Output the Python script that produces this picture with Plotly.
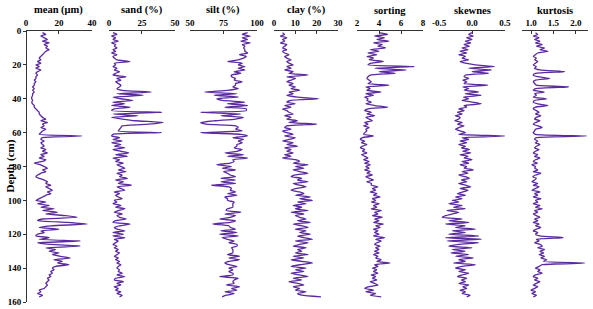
import plotly.graph_objects as go

depth = list(range(1, 158))

mean_um = [10, 12, 9, 11, 13, 10, 14, 11, 13, 12,
           14, 12, 11, 10, 9, 8, 9, 7, 9, 6,
           8, 6, 9, 7, 6, 7, 6, 6, 5, 6,
           5, 5, 4, 5, 4, 5, 4, 4, 3.5, 3.5,
           4, 3.5, 4, 5, 5, 6, 7, 8, 8, 9,
           10, 12, 9, 13, 10, 11, 9, 12, 10, 9,
           8, 34, 10, 9, 11, 9, 10, 11, 9, 12,
           10, 13, 9, 11, 8, 12, 10, 5, 9, 11,
           13, 10, 12, 9, 7, 6, 8, 11, 13, 12,
           15, 12, 14, 16, 13, 15, 12, 10, 8, 6,
           12, 7, 14, 9, 17, 10, 19, 12, 24, 31,
           10, 7, 25, 37, 15, 8, 20, 9, 11, 7,
           6, 14, 8, 33, 7, 15, 33, 12, 18, 14,
           20, 16, 21, 27, 17, 22, 19, 26, 18, 16,
           17, 15, 16, 14, 15, 13, 14, 13, 12, 13,
           12, 11, 8, 9, 7, 10, 8]

sand = [3, 6, 2, 5, 3, 7, 2, 5, 4, 6,
        3, 5, 2, 6, 3, 4, 6, 16, 4, 5,
        3, 6, 4, 8, 5, 3, 13, 6, 9, 5,
        7, 9, 8, 6, 10, 32, 6, 26, 3, 9,
        18, 3, 12, 2, 16, 4, 2, 40, 3, 22,
        2, 10, 20, 41, 30, 10, 9, 8, 7, 40,
        3, 2, 8, 3, 10, 2, 9, 4, 12, 3,
        9, 15, 5, 14, 3, 8, 5, 11, 6, 9,
        12, 7, 13, 6, 10, 8, 14, 5, 11, 7,
        17, 6, 9, 12, 4, 8, 5, 7, 10, 4,
        6, 3, 9, 5, 12, 7, 4, 10, 6, 8,
        13, 5, 3, 16, 8, 4, 6, 12, 3, 11,
        3, 12, 4, 7, 5, 3, 6, 4, 7, 5,
        8, 6, 4, 7, 5, 8, 6, 9, 7, 6,
        8, 7, 10, 6, 12, 5, 4, 11, 6, 9,
        4, 7, 5, 9, 6, 10, 8]

silt = [93, 89, 95, 89, 93, 88, 95, 89, 91, 90,
        91, 91, 93, 87, 92, 90, 86, 78, 89, 86,
        91, 86, 91, 83, 88, 81, 81, 84, 83, 89,
        84, 84, 82, 86, 78, 61, 85, 68, 86, 70,
        74, 91, 78, 93, 76, 92, 92, 58, 88, 73,
        90, 84, 69, 58, 62, 84, 86, 84, 89, 58,
        88, 93, 82, 90, 86, 89, 85, 85, 83, 89,
        85, 76, 90, 78, 93, 82, 83, 80, 70, 81,
        74, 84, 75, 78, 80, 84, 73, 84, 73, 84,
        66, 79, 81, 80, 84, 78, 85, 76, 78, 78,
        83, 82, 82, 82, 78, 77, 88, 76, 84, 80,
        72, 84, 80, 67, 79, 80, 84, 73, 85, 72,
        86, 74, 78, 83, 79, 85, 85, 81, 82, 82,
        82, 78, 87, 79, 87, 79, 76, 79, 85, 79,
        82, 79, 82, 82, 72, 86, 83, 82, 83, 77,
        87, 81, 85, 76, 83, 77, 74]

clay = [4, 5, 3, 6, 4, 5, 3, 6, 5, 4,
        6, 4, 5, 7, 5, 6, 8, 6, 7, 9,
        6, 8, 5, 9, 7, 16, 6, 10, 8, 6,
        9, 7, 10, 8, 12, 7, 9, 6, 11, 21,
        8, 6, 10, 5, 8, 4, 6, 7, 9, 5,
        8, 6, 11, 7, 20, 6, 5, 8, 4, 6,
        9, 5, 10, 7, 4, 9, 6, 11, 5, 8,
        6, 9, 5, 8, 4, 10, 12, 9, 16, 10,
        14, 9, 12, 16, 10, 8, 13, 11, 16, 9,
        12, 15, 10, 8, 12, 14, 10, 17, 12, 18,
        11, 15, 9, 13, 10, 16, 8, 14, 10, 12,
        15, 11, 17, 9, 13, 16, 10, 15, 12, 17,
        11, 14, 18, 10, 16, 12, 9, 15, 11, 13,
        10, 16, 9, 14, 8, 13, 18, 12, 8, 15,
        10, 14, 8, 12, 16, 9, 13, 7, 11, 14,
        9, 12, 10, 15, 11, 13, 22]

sorting = [4.0, 4.8, 3.6, 4.5, 3.8, 4.9, 3.5, 4.3, 3.9, 4.6,
           3.2, 4.0, 3.0, 3.8, 2.9, 3.5, 3.1, 4.4, 3.3, 3.0,
           7.2, 3.6, 6.5, 4.0, 5.5, 3.2, 3.0, 2.9, 3.1, 3.3,
           3.0, 4.9, 2.8, 3.2, 2.9, 4.2, 2.8, 3.5, 2.7, 3.0,
           2.9, 3.3, 2.8, 3.6, 4.8, 3.0, 2.7, 3.3, 2.9, 3.6,
           2.8, 3.1, 3.4, 2.7, 3.0, 2.6, 3.1, 2.8, 2.9, 2.7,
           2.6, 3.5, 2.5, 2.3, 2.7, 2.4, 2.9, 2.5, 2.3, 2.7,
           2.5, 2.9, 2.4, 2.7, 3.0, 2.6, 3.1, 2.7, 3.2, 2.8,
           3.1, 2.7, 3.2, 2.9, 3.4, 2.8, 3.1, 3.5, 2.9, 3.3,
           3.3, 3.9, 3.4, 3.7, 3.2, 3.8, 3.5, 4.1, 3.4, 3.7,
           3.3, 4.0, 3.5, 3.8, 3.3, 4.2, 3.6, 3.9, 3.4, 4.3,
           3.6, 4.0, 3.5, 4.4, 3.7, 4.1, 3.5, 3.9, 3.6, 4.0,
           3.5, 4.5, 3.7, 4.2, 3.8, 3.6, 4.1, 3.7, 4.0, 3.6,
           4.0, 3.5, 3.9, 3.7, 4.2, 3.8, 5.0, 3.6, 3.9, 3.4,
           3.8, 3.5, 3.9, 3.3, 3.7, 3.4, 3.8, 3.2, 3.6, 3.9,
           3.0, 2.7, 3.5, 2.8, 3.7, 3.2, 4.2]

skewness = [0.0, -0.05, 0.02, -0.08, 0.0, -0.1, -0.02, -0.12, -0.04, -0.15,
            -0.06, -0.18, -0.08, -0.2, -0.1, -0.15, -0.05, -0.18, -0.1, 0.05,
            0.34, -0.05, 0.3, 0.0, 0.25, -0.1, -0.12, -0.05, -0.14, -0.08,
            -0.12, 0.24, -0.14, -0.05, -0.12, 0.1, -0.1, 0.14, -0.13, -0.05,
            -0.15, 0.0, 0.14, -0.12, -0.08, -0.2, -0.12, -0.22, -0.15, -0.25,
            -0.18, -0.2, -0.26, -0.15, -0.22, -0.12, -0.2, -0.25, -0.18, -0.1,
            -0.2, 0.5, -0.15, -0.05, -0.18, -0.08, -0.2, -0.1, -0.16, -0.04,
            -0.14, -0.02, -0.18, -0.06, -0.12, 0.0, -0.15, -0.05, -0.18, -0.08,
            -0.12, 0.02, -0.15, -0.06, -0.2, -0.1, -0.04, -0.16, -0.08, -0.2,
            -0.1, -0.02, -0.18, -0.06, -0.14, -0.22, -0.1, -0.25, -0.15, -0.3,
            -0.2, -0.35, -0.15, -0.28, -0.1, -0.38, -0.2, -0.3, -0.4, -0.45,
            -0.15, -0.35, -0.05, -0.4, -0.1, -0.25, 0.05, -0.3, -0.1, -0.35,
            0.1, -0.4, 0.14, -0.38, 0.1, -0.2, -0.35, 0.0, -0.3, -0.1,
            -0.32, -0.05, -0.25, 0.02, -0.2, -0.1, -0.28, 0.05, -0.15, -0.25,
            -0.1, -0.2, -0.05, -0.15, -0.22, -0.08, -0.16, -0.1, -0.2, -0.05,
            -0.14, -0.08, -0.18, -0.1, -0.15, -0.03, -0.08]

kurtosis = [1.1, 1.15, 1.05, 1.18, 1.08, 1.2, 1.1, 1.25, 1.12, 1.3,
            1.2, 1.38, 1.15, 1.1, 1.05, 1.12, 1.08, 1.15, 1.1, 1.05,
            1.12, 1.08, 1.2, 1.75, 1.1, 1.05, 1.15, 1.42, 1.1, 1.05,
            1.08, 1.12, 1.84, 1.1, 1.05, 1.3, 1.08, 1.12, 1.05, 1.35,
            1.08, 1.05, 1.15, 1.38, 1.1, 1.05, 1.12, 1.18, 1.1, 1.22,
            1.12, 1.08, 1.2, 1.1, 1.05, 1.15, 1.25, 1.1, 1.08, 1.05,
            1.1, 2.24, 1.12, 1.08, 1.15, 1.1, 1.2, 1.12, 1.08, 1.18,
            1.1, 1.05, 1.15, 1.08, 1.2, 1.1, 1.05, 1.14, 1.02, 1.1,
            1.08, 1.15, 1.05, 1.22, 1.1, 1.04, 1.12, 1.08, 1.02, 1.15,
            1.05, 1.18, 1.1, 1.02, 1.2, 1.08, 1.15, 1.05, 1.22, 1.1,
            1.15, 1.05, 1.2, 1.1, 1.25, 1.08, 1.15, 1.05, 1.12, 1.2,
            1.08, 1.15, 1.05, 1.18, 1.1, 1.22, 1.12, 1.05, 1.15, 1.1,
            1.2, 1.72, 1.12, 1.18, 1.08, 1.2, 1.25, 1.15, 1.3, 1.2,
            1.28, 1.18, 1.3, 1.22, 1.35, 1.28, 2.2, 1.25, 1.18, 1.1,
            1.2, 1.15, 1.25, 1.1, 1.05, 1.15, 1.08, 1.2, 1.12, 1.05,
            1.15, 1.08, 1.0, 1.1, 1.02, 1.12, 1.05]

titles = ["mean (μm)", "sand (%)", "silt (%)", "clay (%)", "sorting", "skewnes", "kurtosis"]
series = [mean_um, sand, silt, clay, sorting, skewness, kurtosis]
ranges = [[0, 40], [0, 50], [50, 100], [0, 30], [2, 8], [-0.5, 0.5], [0.8, 2.27]]
tickvals = [[0, 20, 40], [0, 25, 50], [50, 75, 100], [0, 10, 20, 30], [2, 4, 6, 8],
            [-0.5, 0.0, 0.5], [1.0, 1.5, 2.0]]
ticktext = [["0", "20", "40"], ["0", "25", "50"], ["50", "75", "100"], ["0", "10", "20", "30"],
            ["2", "4", "6", "8"], ["-0.5", "0.0", "0.5"], ["1.0", "1.5", "2.0"]]
depth_ticks = [0, 20, 40, 60, 80, 100, 120, 140, 160]
domains = [[0.0, 0.1174], [0.1477, 0.2651], [0.2918, 0.4110], [0.4413, 0.5552],
           [0.5890, 0.7064], [0.7349, 0.8523], [0.8826, 1.0]]

FONT = "Liberation Serif, Times New Roman, serif"
LINE = "#5a2a9e"

fig = go.Figure()
layout = dict(
    width=593, height=309,
    margin=dict(l=26, r=5, t=31, b=7, autoexpand=False),
    paper_bgcolor="white", plot_bgcolor="white",
    showlegend=False,
    hovermode=False,
    font=dict(family=FONT, color="black", size=9),
    yaxis=dict(range=[160, 0], tickvals=depth_ticks, automargin=False,
               showline=True, linecolor="#333", linewidth=1, ticks="outside", ticklen=3,
               tickcolor="#333", showgrid=False, zeroline=False,
               tickfont=dict(family=FONT, size=9, weight="bold", color="black"),
               anchor="free", position=0),
)
annotations = [dict(text="Depth (cm)", xref="paper", yref="paper", x=0, y=0.5,
                    xshift=-16, textangle=-90, showarrow=False,
                    xanchor="center", yanchor="middle",
                    font=dict(family=FONT, size=11, weight="bold", color="black"))]
for i, (t, s) in enumerate(zip(titles, series)):
    xa = "x" if i == 0 else f"x{i+1}"
    key = "xaxis" if i == 0 else f"xaxis{i+1}"
    fig.add_trace(go.Scatter(x=s, y=depth, mode="lines", xaxis=xa, yaxis="y",
                             line=dict(color=LINE, width=1.3, shape="spline", smoothing=0.5)))
    layout[key] = dict(domain=domains[i], range=ranges[i], side="top", anchor="y",
                       tickvals=tickvals[i], ticktext=ticktext[i], automargin=False,
                       showline=True, linecolor="#333", linewidth=1,
                       ticks="inside", ticklen=3, tickcolor="#333",
                       showgrid=False, zeroline=False,
                       tickfont=dict(family=FONT, size=9, weight="bold", color="black"))
    annotations.append(dict(text=t, xref="paper", yref="paper",
                            x=(domains[i][0] + domains[i][1]) / 2, y=1,
                            xanchor="center", yanchor="middle", yshift=21, showarrow=False,
                            font=dict(family=FONT, size=10.5, weight="bold", color="black")))
layout["annotations"] = annotations
fig.update_layout(**layout)
fig.write_html("out.html",
               config={"displayModeBar": False, "staticPlot": True},
               post_script="document.body.style.margin='0';document.body.style.overflow='hidden';")
